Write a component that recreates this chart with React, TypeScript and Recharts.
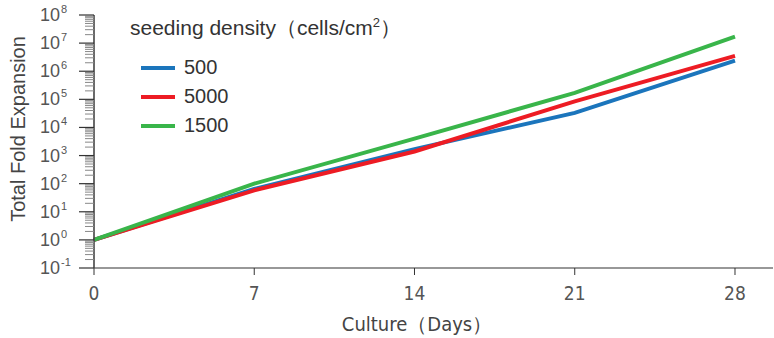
import React from "react";
import { LineChart, Line, XAxis, YAxis } from "recharts";

const days = [0, 7, 14, 21, 28];
const density500 = [1, 65, 1700, 33000, 2400000];
const density5000 = [1, 58, 1400, 85000, 3500000];
const density1500 = [1, 100, 4000, 170000, 17000000];

const seriesKeys = ["s500", "s5000", "s1500"];
const seriesNames = ["500", "5000", "1500"];
const seriesColors = ["#1b75bc", "#ed1c24", "#39b54a"];

const majorExps = [-1, 0, 1, 2, 3, 4, 5, 6, 7, 8];
const minorMults = [2, 3, 4, 5, 6, 7, 8, 9];

const data = days.map((d, i) => ({
  day: d,
  s500: density500[i],
  s5000: density5000[i],
  s1500: density1500[i],
}));

const yTicks: number[] = [];
majorExps.forEach((k) => {
  yTicks.push(Math.pow(10, k));
  if (k < 8) minorMults.forEach((m) => yTicks.push(m * Math.pow(10, k)));
});

const SANS = "'Liberation Sans', Arial, sans-serif";
const NARROW = "'Liberation Sans Narrow', 'DejaVu Sans Condensed', sans-serif";

function LogTick({ x, y, payload }: any) {
  const v = payload.value;
  const k = Math.log10(v);
  const exp = Math.round(k);
  if (Math.abs(k - exp) > 1e-6) {
    return <line x1={x - 9} x2={x} y1={y} y2={y} stroke="#888" strokeWidth={1} />;
  }
  return (
    <g>
      <line x1={x - 15} x2={x} y1={y} y2={y} stroke="#333" strokeWidth={1.2} />
      <text x={x - 34} y={y + 6} textAnchor="end" fontSize={18} fill="#555" fontFamily={SANS}>
        10
      </text>
      <text x={x - 33} y={y - 2} textAnchor="start" fontSize={11} fill="#555" fontFamily={SANS}>
        {exp}
      </text>
    </g>
  );
}

function LegendBox() {
  return (
    <div style={{ position: "absolute", left: 130, top: 14, fontFamily: SANS, color: "#333" }}>
      <div style={{ fontSize: 21, lineHeight: "28px", whiteSpace: "nowrap" }}>
        seeding density（cells/cm<sup style={{ fontSize: 13, lineHeight: 0 }}>2</sup>）
      </div>
      <div style={{ marginTop: 11 }}>
        {seriesNames.map((name, i) => (
          <div key={name} style={{ display: "flex", alignItems: "center", height: 29 }}>
            <span
              style={{
                display: "inline-block",
                width: 34,
                height: 4,
                background: seriesColors[i],
                marginLeft: 11,
                marginRight: 9,
              }}
            />
            <span style={{ fontSize: 20 }}>{name}</span>
          </div>
        ))}
      </div>
    </div>
  );
}

export default function App() {
  return (
    <div style={{ position: "absolute", left: 0, top: 0, width: 774, height: 338, background: "#fff" }}>
      <LineChart width={774} height={338} data={data} margin={{ top: 15, right: 1, bottom: 0, left: 0 }}>
        <XAxis
          dataKey="day"
          type="number"
          domain={[0, 29.66]}
          ticks={days}
          interval={0}
          height={70}
          tickSize={7}
          tickMargin={12}
          axisLine={{ stroke: "#333", strokeWidth: 1.2 }}
          tickLine={{ stroke: "#333" }}
          tick={{ fill: "#555", fontSize: 19, fontFamily: NARROW }}
          label={{
            content: () => (
              <text x={417} y={331} textAnchor="middle" fontSize={20} fill="#444" fontFamily={NARROW}>
                Culture（Days）
              </text>
            ),
          }}
        />
        <YAxis
          scale="log"
          domain={[0.1, 1e8]}
          allowDataOverflow
          ticks={yTicks}
          interval={0}
          width={94}
          tickSize={0}
          tickMargin={0}
          tickLine={false}
          axisLine={{ stroke: "#444", strokeWidth: 1.6 }}
          tick={<LogTick />}
          label={{
            content: () => (
              <text
                x={25}
                y={129}
                transform="rotate(-90 25 129)"
                textAnchor="middle"
                fontSize={20}
                fill="#444"
                fontFamily={SANS}
              >
                Total Fold Expansion
              </text>
            ),
          }}
        />
        {seriesKeys.map((key, i) => (
          <Line
            key={key}
            dataKey={key}
            name={seriesNames[i]}
            type="linear"
            stroke={seriesColors[i]}
            strokeWidth={4}
            dot={false}
            isAnimationActive={false}
          />
        ))}
      </LineChart>
      <LegendBox />
    </div>
  );
}
